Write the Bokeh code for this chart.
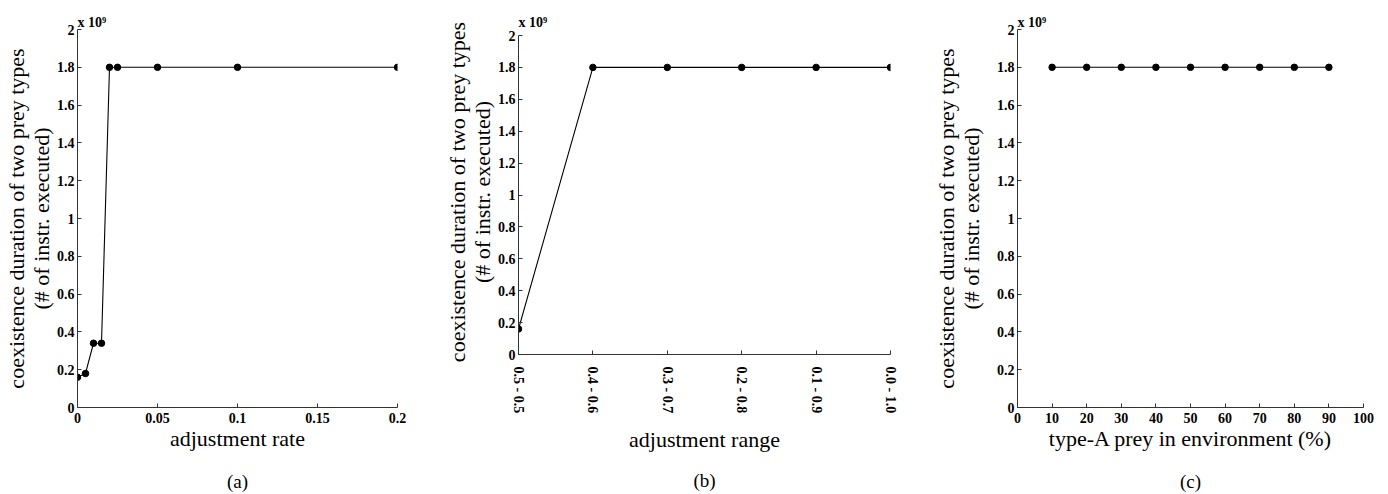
from bokeh.plotting import figure
from bokeh.layouts import row
from bokeh.models import Title, FixedTicker, Range1d
from bokeh.embed import file_html
from bokeh.resources import INLINE

# ---- data (durations in units of 1e9 instructions) ----
rate = [0, 0.005, 0.01, 0.015, 0.02, 0.025, 0.05, 0.1, 0.2]
rate_dur = [0.16, 0.18, 0.34, 0.34, 1.8, 1.8, 1.8, 1.8, 1.8]

range_labels = ["0.5 - 0.5", "0.4 - 0.6", "0.3 - 0.7", "0.2 - 0.8", "0.1 - 0.9", "0.0 - 1.0"]
range_dur = [0.16, 1.8, 1.8, 1.8, 1.8, 1.8]

typeA = [10, 20, 30, 40, 50, 60, 70, 80, 90]
typeA_dur = [1.8, 1.8, 1.8, 1.8, 1.8, 1.8, 1.8, 1.8, 1.8]

y_ticks = [0, 0.2, 0.4, 0.6, 0.8, 1, 1.2, 1.4, 1.6, 1.8, 2]
rate_ticks = [0, 0.05, 0.1, 0.15, 0.2]
typeA_ticks = [0, 10, 20, 30, 40, 50, 60, 70, 80, 90, 100]

ylabel = "coexistence duration of two prey types\n(# of instr. executed)"
scale_text = "x 10\u2079"
SERIF = "Liberation Serif"


def make_fig(x, y, xr, xticks, xoverrides, xlabel, panel, fw, fh, bl, br, bt, bb,
             y_end=2, vertical=False, ylab_standoff=0, title_standoff=31):
    p = figure(frame_width=fw, frame_height=fh, min_border_left=bl, min_border_right=br,
               min_border_top=bt, min_border_bottom=bb, title=None,
               x_range=Range1d(*xr), y_range=Range1d(0, y_end), align="start",
               output_backend="svg", toolbar_location=None)
    p.outline_line_color = None
    p.grid.visible = False
    p.background_fill_color = "white"
    p.border_fill_color = "white"
    p.line(x, y, line_color="black", line_width=1.1)
    p.scatter(x, y, size=6.5, fill_color="black", line_color="black")

    for ax in (p.xaxis[0], p.yaxis[0]):
        ax.axis_line_color = "#333333"
        ax.major_tick_line_color = "#333333"
        ax.major_tick_in = 4
        ax.major_tick_out = 0
        ax.minor_tick_line_color = None
        ax.major_label_text_font = SERIF
        ax.major_label_text_font_style = "bold"
        ax.major_label_text_font_size = "14px"
        ax.major_label_text_color = "black"
        ax.axis_label_text_font = SERIF
        ax.axis_label_text_font_style = "normal"
        ax.axis_label_text_font_size = "22px"
        ax.axis_label_text_color = "black"

    p.yaxis.ticker = FixedTicker(ticks=y_ticks)
    p.yaxis.major_label_overrides = {v: str(v) for v in y_ticks}
    p.yaxis.major_label_standoff = 3
    p.yaxis.bounds = (0, 2)
    p.yaxis.axis_label = ylabel
    p.yaxis.axis_label_standoff = ylab_standoff
    p.yaxis.axis_label_text_line_height = 1.0

    p.xaxis.ticker = FixedTicker(ticks=xticks)
    p.xaxis.major_label_overrides = xoverrides
    p.xaxis.major_label_standoff = 5
    p.xaxis.axis_label = xlabel
    p.xaxis.axis_label_standoff = 0
    if vertical:
        p.xaxis.major_label_orientation = "vertical"
        p.xaxis.major_label_standoff = 12
        p.xaxis.axis_label_standoff = 11

    p.add_layout(Title(text=scale_text, align="left", text_font=SERIF, text_font_style="bold",
                       text_font_size="14px", text_color="black", standoff=0), "above")
    p.add_layout(Title(text=panel, align="center", text_font=SERIF, text_font_style="normal",
                       text_font_size="19px", text_color="black", standoff=title_standoff), "below")
    return p


pa = make_fig(rate, rate_dur, (0, 0.2), rate_ticks, {v: str(v) for v in rate_ticks},
              "adjustment rate", "(a)", 320, 378, 77, 44, 29, 87)

# panel (b): axis tops are aligned across the row, so its frame starts at the same
# top border and the range extends slightly above 2 to place y=2 lower, as in the original
range_pos = list(range(1, len(range_labels) + 1))
pb = make_fig(range_pos, range_dur, (1, 6), range_pos,
              {pos: lab for pos, lab in zip(range_pos, range_labels)},
              "adjustment range", "(b)", 372, 325, 77, 40, 29, 140,
              y_end=2 * 325 / 319, vertical=True, title_standoff=24)

pc = make_fig(typeA, typeA_dur, (0, 100), typeA_ticks, {v: str(v) for v in typeA_ticks},
              "type-A prey in environment (%)", "(c)", 346, 378, 87, 25, 29, 87,
              ylab_standoff=10)

layout = row(pa, pb, pc, spacing=0)
open("out.html", "w").write(file_html(layout, INLINE))
